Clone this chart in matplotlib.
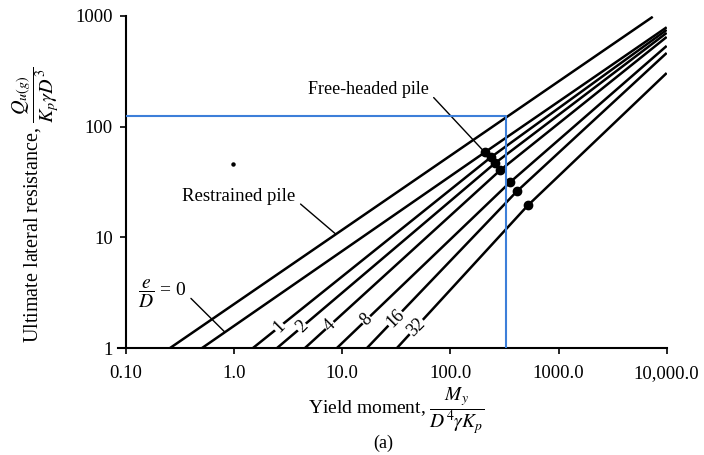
import numpy as np
import matplotlib
matplotlib.use('Agg')
import matplotlib.pyplot as plt

plt.rcParams['font.family'] = ['Liberation Serif', 'DejaVu Serif']
plt.rcParams['mathtext.fontset'] = 'stix'

# ---- data --------------------------------------------------------------------
# restrained pile (straight line in log-log)
restrained_x = [0.255, 7430.0]
restrained_y = [1.0, 982.0]

# free-headed piles, one curve per e/D
ed_values = [0, 1, 2, 4, 8, 16, 32]
start_x = [0.504, 1.49, 2.49, 4.51, 8.91, 16.9, 32.0]    # where curve leaves y = 1
dot_x = [208.0, 236.0, 257.0, 287.0, 354.0, 411.0, 519.0]
dot_y = [58.6, 52.8, 46.6, 40.2, 31.3, 26.0, 19.4]
end_x = [10000.0] * 7
end_y = [790.0, 748.0, 703.0, 646.0, 536.0, 463.0, 305.0]

# blue reading guide
guide_x = [0.1, 325.0, 325.0]
guide_y = [125.0, 125.0, 1.0]

# stray print dot in the scan
stray_x = [0.975]
stray_y = [45.6]

x_ticks = [0.1, 1, 10, 100, 1000, 10000]
x_ticklabels = ['0.10', '1.0', '10.0', '100.0', '1000.0', '10,000.0']
y_ticks = [1, 10, 100, 1000]
y_ticklabels = ['1', '10', '100', '1000']

# y value where each e/D number sits on its curve
label_y = [None, 1.55, 1.55, 1.6, 1.8, 1.85, 1.55]


def x_on_curve(xs, ys, y):
    """x on a log-log polyline for a given y"""
    return 10 ** np.interp(np.log10(y), np.log10(ys), np.log10(xs))


def y_on_curve(xs, ys, x):
    return 10 ** np.interp(np.log10(x), np.log10(xs), np.log10(ys))


fig = plt.figure(figsize=(7.04, 4.55), dpi=100)
ax = fig.add_axes([0.179, 0.235, 0.768, 0.730])

ax.plot(restrained_x, restrained_y, color='black', lw=1.8, solid_capstyle='butt')

for i, ed in enumerate(ed_values):
    xs = [start_x[i], dot_x[i], end_x[i]]
    ys = [1.0, dot_y[i], end_y[i]]
    ax.plot(xs, ys, color='black', lw=1.8, solid_capstyle='butt')
    ax.plot(dot_x[i], dot_y[i], 'o', color='black', ms=6)
    if label_y[i] is not None:
        lx = x_on_curve(xs, ys, label_y[i])
        ax.text(lx, label_y[i], str(ed), rotation=45, ha='center', va='center',
                fontsize=13, bbox=dict(facecolor='white', edgecolor='none', pad=0.5),
                zorder=5)

ax.plot(guide_x, guide_y, color='#3d7fd9', lw=1.5, zorder=6)
ax.plot(stray_x, stray_y, 'o', color='black', ms=2.2)

# callouts
ax.annotate('Restrained pile', xy=(8.73, y_on_curve(restrained_x, restrained_y, 8.73)),
            xytext=(1.11, 23.4), ha='center', va='center', fontsize=13.5,
            arrowprops=dict(arrowstyle='-', lw=1.0, color='black', relpos=(1.0, 0.3),
                            shrinkA=2, shrinkB=0))
ax.annotate('Free-headed pile', xy=(dot_x[0], dot_y[0]), xytext=(17.5, 218),
            ha='center', va='center', fontsize=13,
            arrowprops=dict(arrowstyle='-', lw=1.0, color='black', relpos=(1.0, 0.3),
                            shrinkA=2, shrinkB=0))
ed0_x = [start_x[0], dot_x[0], end_x[0]]
ed0_y = [1.0, dot_y[0], end_y[0]]
ax.annotate(r'$\dfrac{e}{D}$ = 0', xy=(0.822, y_on_curve(ed0_x, ed0_y, 0.822)),
            xytext=(0.215, 3.1), ha='center', va='center', fontsize=14,
            arrowprops=dict(arrowstyle='-', lw=1.0, color='black', relpos=(1.0, 0.5),
                            shrinkA=2, shrinkB=0))

ax.set_xscale('log')
ax.set_yscale('log')
ax.set_xlim(0.1, 10000)
ax.set_ylim(1, 1000)
ax.set_xticks(x_ticks)
ax.set_xticklabels(x_ticklabels)
ax.set_yticks(y_ticks)
ax.set_yticklabels(y_ticklabels)
ax.minorticks_off()
ax.tick_params(axis='both', direction='out', length=4.5, width=1.2, labelsize=13.5)
ax.tick_params(axis='x', pad=8)
ax.tick_params(axis='y', pad=5)

for side in ['top', 'right']:
    ax.spines[side].set_visible(False)
for side in ['left', 'bottom']:
    ax.spines[side].set_linewidth(1.5)
ax.spines['bottom'].set_bounds(0.085, 10000)

ax.set_xlabel(r'Yield moment, $\dfrac{M_y}{D^4\gamma K_p}$', fontsize=14, labelpad=2)

# y label placed by hand so it sits a little below the axes centre, as in the original
fig.text(0.05, 0.55, r'Ultimate lateral resistance, $\dfrac{Q_{u(g)}}{K_p\gamma D^3}$',
         rotation=90, ha='center', va='center', fontsize=14.5)

fig.text(0.545, 0.026, '(a)', ha='center', va='center', fontsize=13)

fig.savefig('out.png', dpi=100)
